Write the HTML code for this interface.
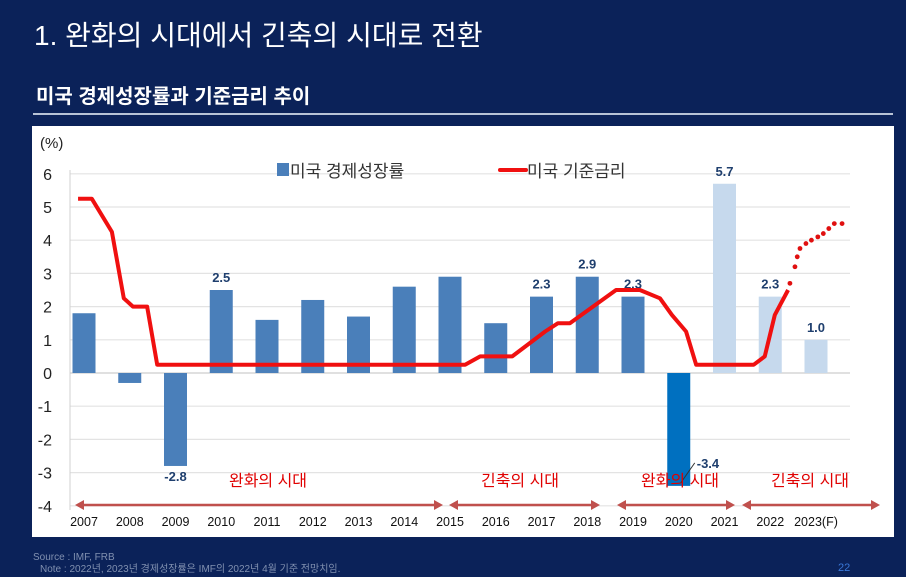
<!DOCTYPE html>
<html><head><meta charset="utf-8"><style>
body{margin:0;width:906px;height:577px;background:#0b2259;overflow:hidden;font-family:"Liberation Sans","Noto Sans CJK KR",sans-serif;}
</style></head><body>
<svg width="906" height="577" xmlns="http://www.w3.org/2000/svg" style="position:absolute;left:0;top:0" font-family="Liberation Sans, Noto Sans CJK KR, sans-serif">
<text x="34" y="45" fill="#fff" font-size="28">1. 완화의 시대에서 긴축의 시대로 전환</text>
<text x="36" y="103" fill="#fff" font-size="20" font-weight="bold">미국 경제성장률과 기준금리 추이</text>
<line x1="33" y1="114" x2="893" y2="114" stroke="#b8c3d6" stroke-width="2"/>
<rect x="32" y="126" width="862" height="411" fill="#fff"/>
<g id="chart"></g>
<text x="33" y="560" fill="#8090b0" font-size="10">Source : IMF, FRB</text>
<text x="40" y="572" fill="#8090b0" font-size="10">Note : 2022년, 2023년 경제성장률은 IMF의 2022년 4월 기준 전망치임.</text>
<text x="838" y="571" fill="#3a78d8" font-size="11">22</text>
</svg>
<script>
const years=["2007","2008","2009","2010","2011","2012","2013","2014","2015","2016","2017","2018","2019","2020","2021","2022","2023(F)"];
const growth=[1.8,-0.3,-2.8,2.5,1.6,2.2,1.7,2.6,2.9,1.5,2.3,2.9,2.3,-3.4,5.7,2.3,1.0];
const labeled=[null,null,"-2.8","2.5",null,null,null,null,null,null,"2.3","2.9","2.3","-3.4","5.7","2.3","1.0"];
const yTicks=[6,5,4,3,2,1,0,-1,-2,-3,-4];
const rateT=[2006.87,2007.17,2007.61,2007.87,2008.07,2008.38,2008.6,2015.33,2015.66,2016.36,2017.08,2017.36,2017.62,2018.63,2019.15,2019.59,2019.85,2020.16,2020.38,2021.64,2021.88,2022.1,2022.39];
const rateV=[5.25,5.25,4.25,2.25,2.0,2.0,0.25,0.25,0.5,0.5,1.25,1.5,1.5,2.5,2.5,2.25,1.75,1.25,0.25,0.25,0.5,1.75,2.5];
const fcT=[2022.43,2022.54,2022.59,2022.65,2022.78,2022.9,2023.04,2023.16,2023.28,2023.4,2023.57];
const fcV=[2.7,3.2,3.5,3.75,3.9,4.0,4.1,4.2,4.35,4.5,4.5];
const eras=[["완화의 시대",75,443,268],["긴축의 시대",449,600,520],["완화의 시대",617,735,680],["긴축의 시대",742,880,810]];
const NS="http://www.w3.org/2000/svg";
const g=document.getElementById('chart');
const X=i=>84+45.75*i;
const XT=t=>X(t-2007);
const Y=v=>373-v*33.2;
function mk(tag,attrs,txt){const e=document.createElementNS(NS,tag);for(const k in attrs)e.setAttribute(k,attrs[k]);if(txt!=null)e.textContent=txt;g.appendChild(e);return e;}
yTicks.forEach(v=>{
 const l=mk('line',{x1:70,x2:850,y1:Y(v),y2:Y(v),stroke:'#e3e3e3','stroke-width':1.2});
 
 
 const t=mk('text',{x:52,y:Y(v)+6,'text-anchor':'end','font-size':16,fill:'#222'},String(v));
 
 
});
let e=mk('text',{x:40,y:148,'font-size':15,fill:'#222'},'(%)');


e=mk('line',{x1:70,x2:70,y1:170,y2:510,stroke:'#d0d0d0'});


e=mk('line',{x1:70,x2:850,y1:Y(0),y2:Y(0),stroke:'#c8c8c8'});


growth.forEach((v,i)=>{
 const col=i==13?'#0070c0':(i>=14?'#c6d9ed':'#4a7fba');
 const r=mk('rect',{x:X(i)-11.5,y:Math.min(Y(v),Y(0)),width:23,height:Math.abs(Y(v)-Y(0)),fill:col});
 
 
 const tl=mk('text',{x:X(i),y:526,'text-anchor':'middle','font-size':12.5,fill:'#111'},years[i]);
 
 
 if(labeled[i]){
  let lx=X(i),ly=v>=0?Y(v)-8:Y(v)+15,anchor='middle';
  if(i==13){lx=X(i)+18;ly=Y(v)-18;anchor='start';
   const ll=mk('line',{x1:X(i)+2,y1:Y(v)-3,x2:X(i)+16,y2:Y(v)-23,stroke:'#333','stroke-width':1});
   
   }
  const dl=mk('text',{x:lx,y:ly,'text-anchor':anchor,'font-size':13,'font-weight':'bold',fill:'#1f3f6e'},labeled[i]);
  
  
 }
});
e=mk('polyline',{points:rateT.map((t,i)=>XT(t)+','+Y(rateV[i])).join(' '),fill:'none',stroke:'#f01010','stroke-width':4,'stroke-linejoin':'round'});


fcT.forEach((t,i)=>{const c=mk('circle',{cx:XT(t),cy:Y(fcV[i]),r:2.4,fill:'#e01010'});
 
 });
eras.forEach(a=>{
 const t=mk('text',{x:a[3],y:486,'text-anchor':'middle','font-size':16,fill:'#e00000'},a[0]);
 
 
 const l=mk('line',{x1:a[1]+6,x2:a[2]-6,y1:505,y2:505,stroke:'#c0504d','stroke-width':2.5});
 
 
 const p=mk('polygon',{points:`${a[1]},505 ${a[1]+9},500 ${a[1]+9},510`,fill:'#c0504d'});
 
 
 const p2=mk('polygon',{points:`${a[2]},505 ${a[2]-9},500 ${a[2]-9},510`,fill:'#c0504d'});
 
 
});
e=mk('rect',{x:277,y:163,width:12,height:13,fill:'#4a7fba'});


e=mk('text',{x:290,y:177,'font-size':17,fill:'#333'},'미국 경제성장률');


e=mk('line',{x1:500,x2:526,y1:170,y2:170,stroke:'#f01010','stroke-width':4,'stroke-linecap':'round'});


e=mk('text',{x:527,y:177,'font-size':17,fill:'#333'},'미국 기준금리');


</script>
</body></html>
